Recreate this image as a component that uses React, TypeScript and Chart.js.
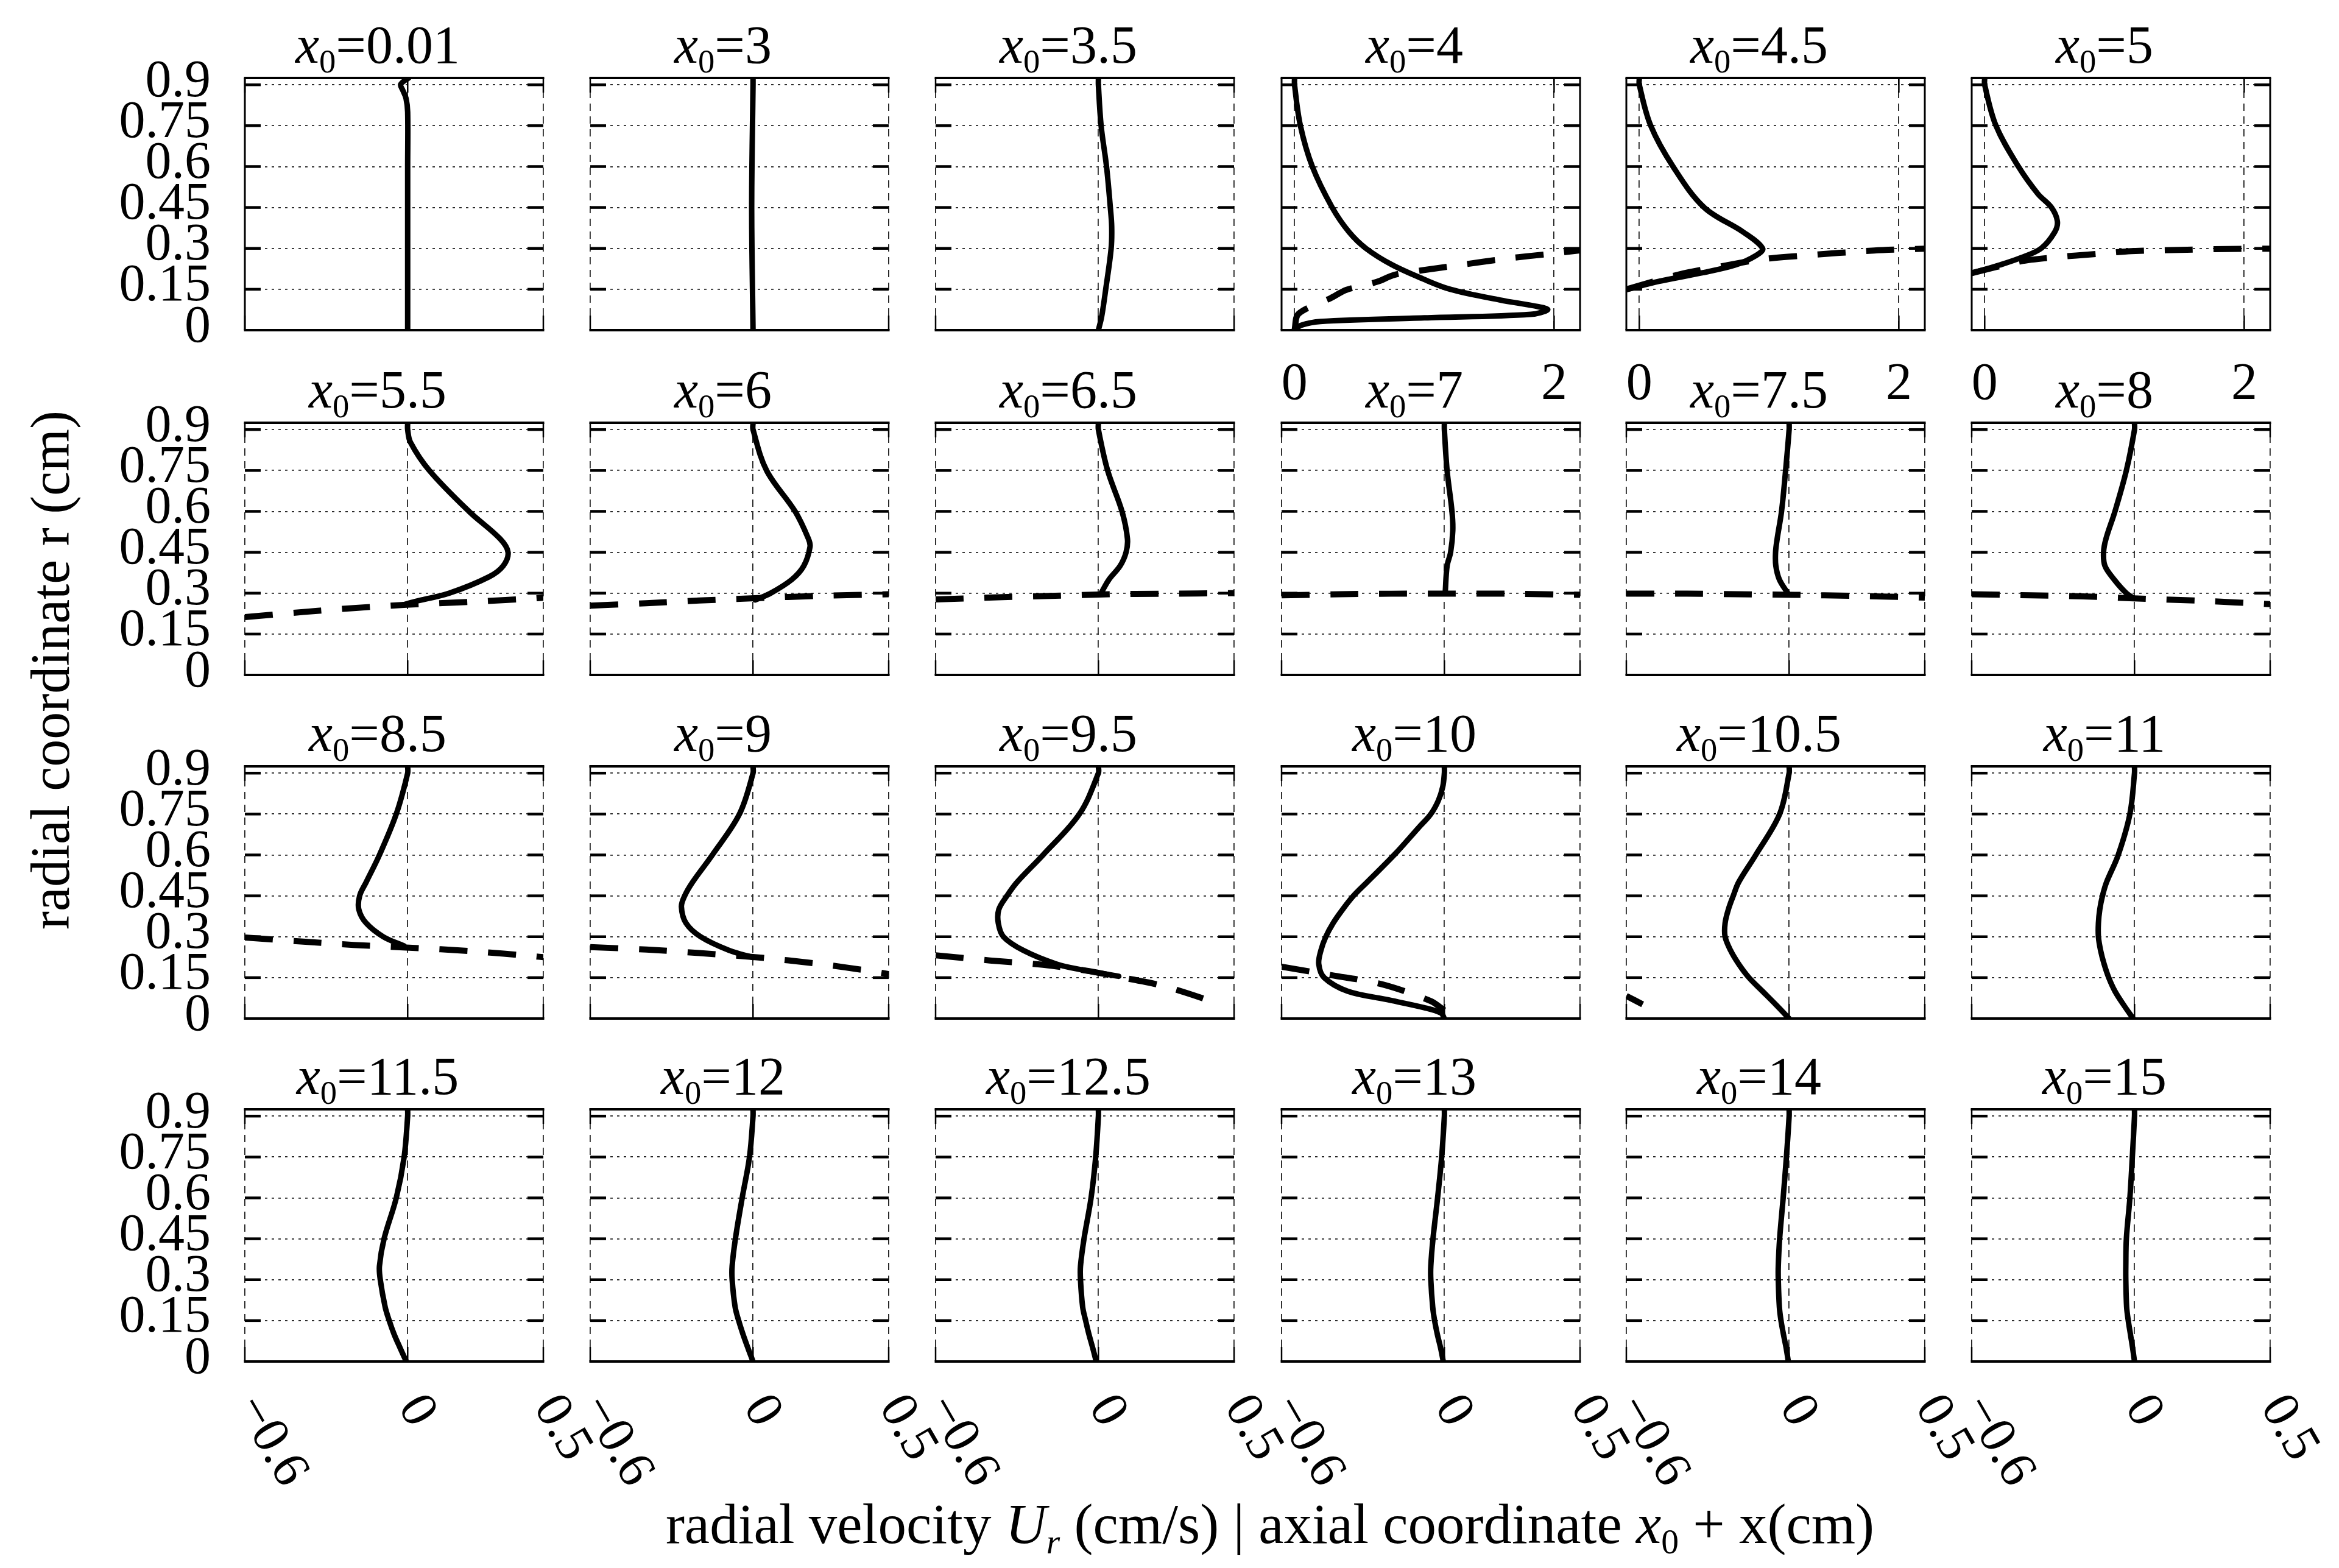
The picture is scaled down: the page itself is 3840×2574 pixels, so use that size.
import { useEffect, useRef } from "react"
import { Chart, registerables } from "chart.js"

Chart.register(...registerables)

const FONT = '"Liberation Serif", "Times New Roman", serif'

// panel grid geometry (px)
const PANEL_W = 490
const PANEL_H = 414
const COL_X = [402, 969, 1536, 2104, 2670, 3237]
const ROW_Y = [128, 694, 1258, 1821]
const PAD = { left: 250, right: 160, top: 60, bottom: 260 }

// axes
const R_MAX = 0.925
const rTicks = [0, 0.15, 0.3, 0.45, 0.6, 0.75, 0.9]
const rTickLabels = ["0", "0.15", "0.3", "0.45", "0.6", "0.75", "0.9"]
const uRange = [-0.6, 0.5]
const uTicks = [-0.6, 0, 0.5]
const uTickLabels = ["\u22120.6", "0", "0.5"]
const axRange = [-0.1, 2.2]
const axTicks = [0, 2]
const axTickLabels = ["0", "2"]

// radial velocity profiles U_r(r)
const r001 = [0, 0.3, 0.6, 0.8, 0.85, 0.88, 0.9, 0.915, 0.925]
const u001 = [0, 0, 0, 0, -0.006, -0.018, -0.026, -0.012, 0.004]
const r3 = [0, 0.15, 0.3, 0.45, 0.6, 0.75, 0.9, 0.925]
const u3 = [0, -0.002, -0.004, -0.005, -0.004, -0.002, 0, 0]
const r35 = [0, 0.05, 0.15, 0.3, 0.38, 0.45, 0.6, 0.75, 0.9, 0.925]
const u35 = [0, 0.012, 0.027, 0.047, 0.049, 0.044, 0.03, 0.01, 0, 0]

const r4 = [0.925, 0.9, 0.75, 0.6, 0.45, 0.36, 0.3, 0.24, 0.188, 0.15, 0.111, 0.086, 0.075, 0.058, 0.045, 0.032, 0.018, 0]
const u4 = [0, 0, 0.045, 0.137, 0.29, 0.42, 0.55, 0.75, 0.99, 1.2, 1.58, 1.88, 1.95, 1.82, 1.0, 0.2, 0.05, 0]
const ifX4 = [0, 0.03, 0.28, 0.4, 0.64, 0.77, 0.99, 1.26, 1.64, 1.97, 2.2]
const ifR4 = [0, 0.06, 0.118, 0.148, 0.178, 0.203, 0.22, 0.238, 0.263, 0.28, 0.293]

const r45 = [0.925, 0.9, 0.75, 0.6, 0.45, 0.36, 0.3, 0.274, 0.239, 0.209, 0.179, 0.15]
const u45 = [0, 0, 0.088, 0.26, 0.5, 0.8, 0.95, 0.9, 0.74, 0.47, 0.15, -0.09]
const ifX45 = [-0.1, 0.31, 0.64, 0.96, 1.28, 1.81, 2.2]
const ifR45 = [0.15, 0.205, 0.235, 0.261, 0.274, 0.292, 0.299]

const r5 = [0.925, 0.9, 0.75, 0.6, 0.5, 0.45, 0.4, 0.36, 0.3, 0.265, 0.239, 0.209]
const u5 = [0, 0, 0.087, 0.26, 0.41, 0.515, 0.56, 0.54, 0.435, 0.275, 0.115, -0.1]
const ifX5 = [-0.1, 0.275, 0.49, 0.92, 1.13, 1.56, 1.77, 2.2]
const ifR5 = [0.209, 0.252, 0.265, 0.282, 0.29, 0.295, 0.297, 0.299]

const r55 = [0.925, 0.9, 0.854, 0.75, 0.6, 0.5, 0.45, 0.4, 0.36, 0.3, 0.269, 0.256]
const u55 = [0, 0, 0.01, 0.08, 0.226, 0.34, 0.37, 0.352, 0.3, 0.153, 0.026, -0.02]
const ifX55 = [-0.6, -0.385, -0.19, 0.006, 0.25, 0.47, 0.5]
const ifR55 = [0.212, 0.231, 0.246, 0.258, 0.269, 0.281, 0.283]

const r6 = [0.925, 0.9, 0.75, 0.6, 0.5, 0.47, 0.4, 0.35, 0.3, 0.275]
const u6 = [0, 0, 0.05, 0.155, 0.204, 0.21, 0.187, 0.143, 0.065, 0.008]
const ifX6 = [-0.6, -0.393, -0.198, 0.02, 0.24, 0.5]
const ifR6 = [0.254, 0.263, 0.273, 0.282, 0.29, 0.296]

const r65 = [0.925, 0.9, 0.75, 0.6, 0.5, 0.45, 0.4, 0.35, 0.3]
const u65 = [0, 0, 0.034, 0.087, 0.107, 0.102, 0.08, 0.039, 0.01]
const ifX65 = [-0.6, -0.37, -0.18, 0.04, 0.23, 0.5]
const ifR65 = [0.277, 0.285, 0.29, 0.296, 0.298, 0.3]

const r7 = [0.925, 0.9, 0.75, 0.6, 0.53, 0.45, 0.4, 0.3]
const u7 = [0, 0, 0.01, 0.028, 0.031, 0.023, 0.01, 0.003]
const ifX7 = [-0.6, -0.389, -0.196, 0.023, 0.242, 0.5]
const ifR7 = [0.292, 0.296, 0.298, 0.298, 0.298, 0.294]

const r75 = [0.925, 0.9, 0.75, 0.6, 0.5, 0.45, 0.4, 0.35, 0.3]
const u75 = [0, 0, -0.013, -0.028, -0.044, -0.05, -0.049, -0.036, -0.005]
const ifX75 = [-0.6, -0.377, -0.185, 0.02, 0.238, 0.5]
const ifR75 = [0.298, 0.298, 0.296, 0.294, 0.29, 0.284]

const r8 = [0.925, 0.9, 0.75, 0.6, 0.5, 0.45, 0.4, 0.35, 0.3, 0.28]
const u8 = [0, 0, -0.03, -0.072, -0.105, -0.114, -0.109, -0.075, -0.03, 0]
const ifX8 = [-0.6, -0.383, -0.19, 0.027, 0.244, 0.5]
const ifR8 = [0.296, 0.292, 0.288, 0.28, 0.272, 0.26]

const r85 = [0.925, 0.9, 0.75, 0.6, 0.5, 0.45, 0.4, 0.35, 0.3, 0.266]
const u85 = [0, 0, -0.042, -0.104, -0.153, -0.177, -0.18, -0.153, -0.09, -0.013]
const ifX85 = [-0.6, -0.385, -0.2, 0.006, 0.238, 0.47, 0.5]
const ifR85 = [0.297, 0.282, 0.27, 0.26, 0.247, 0.228, 0.225]

const r9 = [0.925, 0.9, 0.75, 0.6, 0.5, 0.45, 0.41, 0.35, 0.3, 0.25, 0.224]
const u9 = [0, 0, -0.05, -0.15, -0.223, -0.252, -0.264, -0.247, -0.193, -0.088, 0]
const ifX9 = [-0.6, -0.393, -0.198, 0.02, 0.24, 0.434, 0.5]
const ifR9 = [0.262, 0.253, 0.24, 0.224, 0.201, 0.174, 0.163]

const r95 = [0.925, 0.9, 0.75, 0.6, 0.5, 0.45, 0.4, 0.35, 0.3, 0.25, 0.2, 0.178, 0.155]
const u95 = [0, 0, -0.07, -0.204, -0.3, -0.337, -0.367, -0.369, -0.35, -0.277, -0.155, -0.058, 0.075]
const ifX95 = [-0.6, -0.4, -0.204, -0.034, 0.063, 0.233, 0.427, 0.45]
const ifR95 = [0.232, 0.213, 0.197, 0.174, 0.155, 0.121, 0.06, 0.048]

const r10 = [0.925, 0.9, 0.85, 0.8, 0.75, 0.7, 0.6, 0.5, 0.45, 0.4, 0.35, 0.3, 0.25, 0.2, 0.15, 0.1, 0.07, 0.04, 0.02, 0]
const u10 = [0, 0, -0.006, -0.022, -0.05, -0.095, -0.185, -0.285, -0.335, -0.375, -0.41, -0.437, -0.455, -0.463, -0.443, -0.356, -0.214, -0.075, -0.012, 0]
const ifX10 = [-0.6, -0.416, -0.227, -0.05, 0]
const ifR10 = [0.19, 0.159, 0.125, 0.064, 0.03]

const rFine = [0.925, 0.9, 0.75, 0.6, 0.5, 0.45, 0.4, 0.35, 0.3, 0.25, 0.2, 0.15, 0.1, 0.05, 0]
const u105 = [0, 0, -0.035, -0.123, -0.186, -0.206, -0.224, -0.236, -0.236, -0.216, -0.186, -0.148, -0.098, -0.048, 0]
const ifX105 = [-0.6, -0.54]
const ifR105 = [0.083, 0.052]
const u11 = [0, 0, -0.017, -0.06, -0.103, -0.118, -0.128, -0.133, -0.133, -0.125, -0.112, -0.095, -0.072, -0.04, -0.005]

const rLow = [0.925, 0.9, 0.75, 0.6, 0.45, 0.35, 0.3, 0.2, 0.15, 0.1, 0.05, 0]
const u115 = [0, 0, -0.013, -0.042, -0.087, -0.104, -0.101, -0.083, -0.068, -0.05, -0.028, -0.005]
const u12 = [0, 0, -0.013, -0.04, -0.065, -0.077, -0.077, -0.066, -0.053, -0.037, -0.019, 0]
const u125 = [0, 0, -0.01, -0.027, -0.053, -0.066, -0.066, -0.058, -0.047, -0.035, -0.021, -0.008]
const u13 = [0, 0, -0.01, -0.025, -0.042, -0.05, -0.05, -0.043, -0.036, -0.026, -0.014, -0.004]
const u14 = [0, 0, -0.01, -0.022, -0.035, -0.04, -0.04, -0.036, -0.03, -0.021, -0.011, -0.003]
const u15 = [0, 0, -0.008, -0.017, -0.03, -0.032, -0.032, -0.029, -0.023, -0.015, -0.007, 0]

type PanelDef = {
  x0: string
  r: number[]
  u: number[]
  ifX?: number[]
  ifR?: number[]
  axial?: boolean
  leftSolid?: boolean
}

const panels: PanelDef[] = [
  { x0: "0.01", r: r001, u: u001, leftSolid: true },
  { x0: "3", r: r3, u: u3 },
  { x0: "3.5", r: r35, u: u35 },
  { x0: "4", r: r4, u: u4, ifX: ifX4, ifR: ifR4, axial: true },
  { x0: "4.5", r: r45, u: u45, ifX: ifX45, ifR: ifR45, axial: true },
  { x0: "5", r: r5, u: u5, ifX: ifX5, ifR: ifR5, axial: true },
  { x0: "5.5", r: r55, u: u55, ifX: ifX55, ifR: ifR55 },
  { x0: "6", r: r6, u: u6, ifX: ifX6, ifR: ifR6 },
  { x0: "6.5", r: r65, u: u65, ifX: ifX65, ifR: ifR65 },
  { x0: "7", r: r7, u: u7, ifX: ifX7, ifR: ifR7 },
  { x0: "7.5", r: r75, u: u75, ifX: ifX75, ifR: ifR75 },
  { x0: "8", r: r8, u: u8, ifX: ifX8, ifR: ifR8 },
  { x0: "8.5", r: r85, u: u85, ifX: ifX85, ifR: ifR85 },
  { x0: "9", r: r9, u: u9, ifX: ifX9, ifR: ifR9 },
  { x0: "9.5", r: r95, u: u95, ifX: ifX95, ifR: ifR95 },
  { x0: "10", r: r10, u: u10, ifX: ifX10, ifR: ifR10 },
  { x0: "10.5", r: rFine, u: u105, ifX: ifX105, ifR: ifR105 },
  { x0: "11", r: rFine, u: u11 },
  { x0: "11.5", r: rLow, u: u115 },
  { x0: "12", r: rLow, u: u12 },
  { x0: "12.5", r: rLow, u: u125 },
  { x0: "13", r: rLow, u: u13 },
  { x0: "14", r: rLow, u: u14 },
  { x0: "15", r: rLow, u: u15 },
]

function Panel({ def, row, col }: { def: PanelDef; row: number; col: number }) {
  const canvasRef = useRef<HTMLCanvasElement>(null)
  const W = PANEL_W + PAD.left + PAD.right
  const H = PANEL_H + PAD.top + PAD.bottom

  useEffect(() => {
    if (!canvasRef.current) return
    const xr = def.axial ? axRange : uRange
    const xt = def.axial ? axTicks : uTicks
    const xl = def.axial ? axTickLabels : uTickLabels

    const datasets: any[] = [
      {
        data: def.r.map((r, i) => ({ x: def.u[i], y: r })),
        showLine: true,
        borderColor: "#000",
        borderWidth: 9,
        pointRadius: 0,
        tension: 0.35,
        borderCapStyle: "round",
        borderJoinStyle: "round",
      },
    ]
    if (def.ifX && def.ifR) {
      datasets.push({
        data: def.ifX.map((x, i) => ({ x, y: def.ifR![i] })),
        showLine: true,
        borderColor: "#000",
        borderWidth: 10,
        borderDash: [46, 34],
        pointRadius: 0,
        tension: 0.3,
      })
    }

    // frame, inward tick marks and the tick labels
    const decor = {
      id: "decor",
      afterDraw(chart: any) {
        const { ctx, chartArea: a } = chart
        const xs = chart.scales.x
        const ys = chart.scales.y
        const seg = (x1: number, y1: number, x2: number, y2: number, w: number) => {
          ctx.lineWidth = w
          ctx.beginPath()
          ctx.moveTo(x1, y1)
          ctx.lineTo(x2, y2)
          ctx.stroke()
        }
        ctx.save()
        ctx.setLineDash([])
        ctx.strokeStyle = "#000"
        ctx.lineCap = "butt"
        seg(a.left - 1.5, a.top, a.right + 1.5, a.top, 4)
        seg(a.left - 1.5, a.bottom, a.right + 1.5, a.bottom, 4)
        if (def.axial || def.leftSolid) seg(a.left, a.top, a.left, a.bottom, 3)
        if (def.axial) seg(a.right, a.top, a.right, a.bottom, 3)
        rTicks.forEach((v) => {
          if (v === 0) return
          const y = ys.getPixelForValue(v)
          seg(a.left, y, a.left + 26, y, 4.5)
          seg(a.right - 26, y, a.right, y, 4.5)
        })
        xt.forEach((v) => {
          const x = xs.getPixelForValue(v)
          seg(x, a.bottom, x, a.bottom - 24, 2.5)
          seg(x, a.top, x, a.top + 24, 2.5)
        })
        ctx.fillStyle = "#000"
        ctx.font = `86px ${FONT}`
        if (col === 0) {
          ctx.textAlign = "right"
          ctx.textBaseline = "middle"
          rTicks.forEach((v, i) => {
            ctx.fillText(rTickLabels[i], a.left - 56, ys.getPixelForValue(v) - 4)
          })
        }
        if (row === 3) {
          xt.forEach((v, i) => {
            const x = xs.getPixelForValue(v)
            ctx.save()
            ctx.translate(x + 3, a.bottom + 63)
            ctx.rotate((60 * Math.PI) / 180)
            ctx.textAlign = "left"
            ctx.textBaseline = "middle"
            ctx.fillText(xl[i], 0, 0)
            ctx.restore()
          })
        }
        if (def.axial) {
          ctx.textAlign = "center"
          ctx.textBaseline = "alphabetic"
          xt.forEach((v, i) => {
            ctx.fillText(xl[i], xs.getPixelForValue(v), a.bottom + 113)
          })
        }
        ctx.restore()
      },
    }

    const chart = new Chart(canvasRef.current, {
      type: "scatter",
      data: { datasets },
      options: {
        animation: false,
        responsive: false,
        devicePixelRatio: 1,
        events: [],
        layout: { padding: PAD },
        plugins: { legend: { display: false }, tooltip: { enabled: false } },
        scales: {
          x: {
            type: "linear",
            min: xr[0],
            max: xr[1],
            afterBuildTicks: (s: any) => {
              s.ticks = xt.map((v) => ({ value: v }))
            },
            afterFit: (s: any) => {
              s.height = 0
              s.paddingLeft = 0
              s.paddingRight = 0
            },
            ticks: { display: false },
            grid: { drawTicks: false, color: "#222", lineWidth: 1.8 },
            border: { display: false, dash: [12, 9] },
          },
          y: {
            type: "linear",
            min: 0,
            max: R_MAX,
            afterBuildTicks: (s: any) => {
              s.ticks = rTicks.map((v) => ({ value: v }))
            },
            afterFit: (s: any) => {
              s.width = 0
              s.paddingTop = 0
              s.paddingBottom = 0
            },
            ticks: { display: false },
            grid: { drawTicks: false, color: "#222", lineWidth: 1.8 },
            border: { display: false, dash: [4, 7] },
          },
        },
      } as any,
      plugins: [decor],
    })

    return () => {
      chart.destroy()
    }
  }, [def, row, col])

  return (
    <canvas
      ref={canvasRef}
      width={W}
      height={H}
      style={{
        position: "absolute",
        left: COL_X[col] - PAD.left,
        top: ROW_Y[row] - PAD.top,
        width: W,
        height: H,
      }}
    />
  )
}

const sub = { fontSize: "0.62em", position: "relative" as const, top: "0.3em" }

export default function App() {
  return (
    <div
      style={{
        position: "absolute",
        left: 0,
        top: 0,
        width: 3840,
        height: 2574,
        background: "#fff",
        overflow: "hidden",
        fontFamily: FONT,
        color: "#000",
      }}
    >
      {panels.map((p, i) => (
        <Panel key={p.x0} def={p} row={Math.floor(i / 6)} col={i % 6} />
      ))}
      {panels.map((p, i) => {
        const row = Math.floor(i / 6)
        const col = i % 6
        const cx = COL_X[col] + PANEL_W / 2 - 27
        return (
          <div
            key={"t" + p.x0}
            style={{
              position: "absolute",
              left: cx - 300,
              width: 600,
              top: ROW_Y[row] - 25 - 72,
              textAlign: "center",
              fontSize: 88,
              lineHeight: "86px",
              whiteSpace: "nowrap",
            }}
          >
            <i>x</i>
            <span style={sub}>0</span>={p.x0}
          </div>
        )
      })}
      <div
        style={{
          position: "absolute",
          left: 83 - 700,
          top: 1100 - 44,
          width: 1400,
          height: 88,
          lineHeight: "88px",
          fontSize: 90,
          textAlign: "center",
          whiteSpace: "nowrap",
          transform: "rotate(-90deg)",
          transformOrigin: "center",
        }}
      >
        radial coordinate r (cm)
      </div>
      <div
        style={{
          position: "absolute",
          left: 2085 - 1300,
          top: 2532 - 76,
          width: 2600,
          lineHeight: "92px",
          fontSize: 93,
          textAlign: "center",
          whiteSpace: "nowrap",
        }}
      >
        radial velocity <i>U</i>
        <span style={{ ...sub, fontStyle: "italic" }}>r</span> (cm/s) | axial coordinate <i>x</i>
        <span style={sub}>0</span> + x(cm)
      </div>
    </div>
  )
}
